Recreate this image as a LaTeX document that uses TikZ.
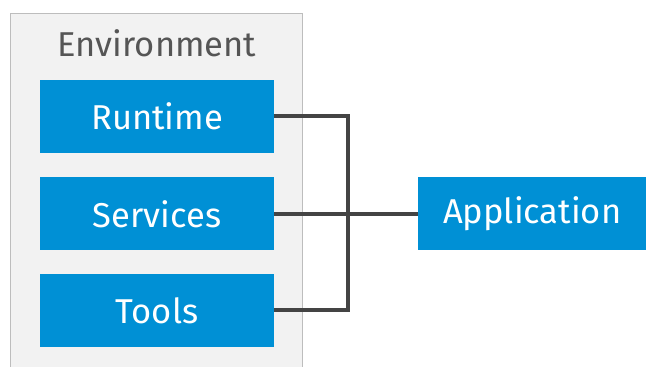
\documentclass[tikz,border=0pt]{standalone}
\usepackage{fontspec}
\setmainfont{Fira Sans}
\definecolor{boxblue}{HTML}{0090D5}
\definecolor{envgray}{HTML}{F2F2F2}
\definecolor{envline}{HTML}{BDBDBD}
\definecolor{linkgray}{HTML}{444444}
\definecolor{labgray}{HTML}{555555}
\begin{document}
\begin{tikzpicture}[x=1pt,y=1pt,
  bluebox/.style={fill=boxblue,draw=none,minimum width=234pt,minimum height=73pt,inner sep=0pt,text=white,font=\fontsize{34.5}{40}\selectfont},
  link/.style={draw=linkgray,line width=4pt}]
\useasboundingbox (0,0) rectangle (646,367);
\node[draw=envline,fill=envgray,line width=1pt,minimum width=292pt,minimum height=360pt,inner sep=0pt,anchor=north west] (env) at (10,354) {};
\node[text=labgray,font=\fontsize{34.5}{40}\selectfont] (envlab) at (157,324) {Environment};
\node[bluebox] (rt) at (157,250.5) {Runtime};
\node[bluebox] (sv) at (157,153) {Services};
\node[bluebox] (tl) at (157,56.5) {Tools};
\node[bluebox,minimum width=228pt,anchor=west] (app) at (418,153) {Application};
\coordinate (j1) at (348,250.5);
\coordinate (j3) at (348,56.5);
\draw[link] (rt.east) -- (j1) -- (j3) -- (tl.east);
\draw[link] (sv.east) -- (app.west);
\end{tikzpicture}
\end{document}
